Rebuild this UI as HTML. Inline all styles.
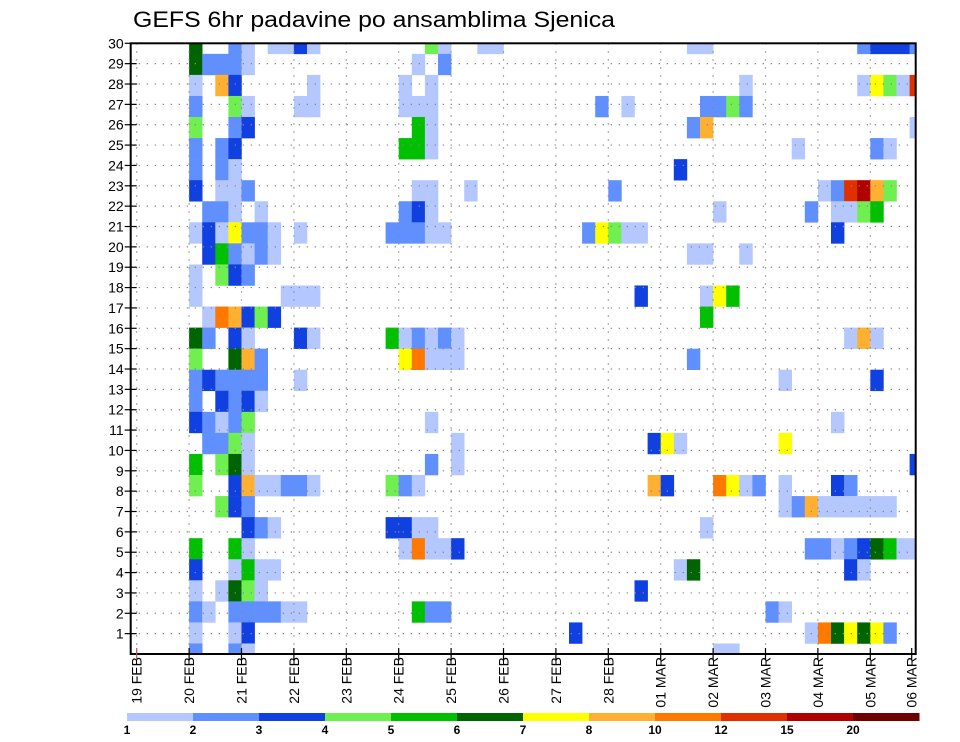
<!DOCTYPE html>
<html>
<head>
<meta charset="utf-8">
<style>
  html,body{margin:0;padding:0;background:#fff;}
  svg{display:block;}
  text{font-family:"Liberation Sans",sans-serif;fill:#000;}
</style>
</head>
<body>
<svg id="chart" width="960" height="742" viewBox="0 0 960 742" xmlns="http://www.w3.org/2000/svg">
  <text x="133" y="27" font-size="22" textLength="482" lengthAdjust="spacingAndGlyphs">GEFS 6hr padavine po ansamblima Sjenica</text>
  <g id="cells"></g>
  <g id="grid"></g>
  <g id="axes"></g>
  <g id="legend"></g>
</svg>
<script>
// ---- data ----
// Each string lists one ensemble-member row (top to bottom): "column(6h step from 20 FEB 00Z)+class".
// Classes: a=1-2 b=2-3 c=3-4 d=4-5 e=5-6 f=6-7 g=7-8 h=8-10 i=10-12 j=12-15 k=15-20 l=>20 mm
const memberRows = [
  "0f 3b 4a 6a 7a 8c 9a 18d 19a 22a 23a 38a 39a 51b 52c 53c 54c 55b",
  "0f 1b 2b 3b 4a 17a 19b",
  "0a 2h 3c 9a 16a 18a 42a 51a 52g 53d 54a 55j",
  "0b 3d 4a 8a 9a 16a 17a 18a 31b 33a 39b 40b 41d 42b",
  "0d 3b 4c 17e 18a 38b 39h 55a",
  "0b 2b 3c 16e 17e 18a 46a 52b 53a",
  "0b 2b 3a 37c",
  "0c 2a 3a 4b 17a 18a 21a 32b 48a 49b 50j 51k 52h 53d",
  "1b 2b 3a 5a 16b 17c 18a 40a 47b 49a 50a 51d 52e",
  "0a 1c 2a 3g 4b 5b 6a 8a 15b 16b 17b 18a 19a 30b 31g 32d 33a 34a 49c",
  "1c 2e 3b 4a 5b 6a 38a 39a 42a",
  "0a 2d 3c 4b",
  "0a 7a 8a 9a 34c 39a 40g 41e",
  "1a 2i 3h 4c 5d 6c 39e",
  "0f 1b 3c 4a 8c 9a 15e 16a 17b 18a 19b 20a 50a 51h 52a",
  "0d 3f 4h 5b 16g 17i 18a 19a 20a 38b",
  "0b 1c 2b 3b 4b 5b 8a 45a 52c",
  "0b 2c 3b 4c 5a",
  "0c 1b 2a 3b 4d 18a 49a",
  "1b 2b 3d 4a 20a 35c 36g 37a 45g",
  "0e 2d 3f 4a 18b 20a 55c",
  "0d 3c 4h 5a 6a 7b 8b 9a 15d 16b 17a 35h 36c 40i 41g 42a 43b 45a 49c 50b",
  "2d 3c 4b 45a 46b 47h 48a 49a 50a 51a 52a 53a",
  "4c 5b 6a 15c 16c 17a 18a 39a",
  "0e 3e 4a 16a 17i 18a 19a 20c 47b 48b 49a 50b 51c 52f 53e 54a 55a",
  "0c 3a 4e 5a 6a 37a 38f 50c 51a",
  "0a 2a 3f 4d 5a 34c",
  "0b 1a 3b 4b 5b 6b 7a 8a 17e 18b 19b 44b 45a",
  "0a 3a 4c 29c 47a 48i 49f 50g 51f 52g 53b",
  "0b 3b 4a 40a 41a"
];
const classCodes = ["a","b","c","d","e","f","g","h","i","j","k","l"];
const classColors = ["#b4c8ff","#6090ff","#1040e0","#70f050","#00c000","#006400","#ffff00","#ffb030","#ff7800","#e03000","#b00000","#700000"];
const legendLabels = ["1","2","3","4","5","6","7","8","10","12","15","20"];
const yTickLabels = [1,2,3,4,5,6,7,8,9,10,11,12,13,14,15,16,17,18,19,20,21,22,23,24,25,26,27,28,29,30];
const xTickLabels = ["19 FEB","20 FEB","21 FEB","22 FEB","23 FEB","24 FEB","25 FEB","26 FEB","27 FEB","28 FEB","01 MAR","02 MAR","03 MAR","04 MAR","05 MAR","06 MAR"];

// ---- geometry ----
const NS = "http://www.w3.org/2000/svg";
const PL = 130.7, PR = 915.7, PT = 43.3, PB = 654;
const dayW = 52.4, x19 = 136.7;
function xDay(d){ return x19 + d*dayW; }            // days since 19 FEB 00Z
function xStep(col){ return xDay(1 + col/4); }       // 6h steps from 20 FEB
const stepW = dayW/4;
const bandH = (PB-PT)/(memberRows.length-1);
function yBand(k){ return PT + k*bandH; }            // band centre
function yTick(v){ return PB - v*(PB-PT)/30; }

function mk(tag, attrs, parent){
  const e = document.createElementNS(NS, tag);
  for (const k in attrs) e.setAttribute(k, attrs[k]);
  parent.appendChild(e);
  return e;
}

// ---- cells ----
const cells = document.getElementById("cells");
memberRows.forEach((row, k) => {
  row.split(" ").forEach(tok => {
    if (!tok) return;
    const col = parseInt(tok, 10);
    const cls = classCodes.indexOf(tok.replace(/[0-9]/g, ""));
    let x1 = xStep(col), x2 = x1 + stepW;
    let y1 = yBand(k) - bandH/2, y2 = yBand(k) + bandH/2;
    x1 = Math.max(x1, PL); x2 = Math.min(x2, PR);
    y1 = Math.max(y1, PT); y2 = Math.min(y2, PB);
    if (x2 <= x1 || y2 <= y1) return;
    const r = mk("rect", {x:x1, y:y1, width:x2-x1+0.3, height:y2-y1+0.3, fill:classColors[cls]}, cells);
    
    
  });
});

// ---- grid ----
const grid = document.getElementById("grid");
yTickLabels.forEach(v => {
  const y = yTick(v);
  const l = mk("line", {x1:PL, x2:PR, y1:y, y2:y, stroke:"#888", "stroke-width":1.2, "stroke-dasharray":"1.3 6.7"}, grid);
  
  
});
xTickLabels.forEach((t, d) => {
  const x = xDay(d);
  if (x > PR - 1) return;
  const l = mk("line", {x1:x, x2:x, y1:PT, y2:PB, stroke:"#888", "stroke-width":1.2, "stroke-dasharray":"1.3 6.7"}, grid);
  
  
});

// ---- axes ----
const axes = document.getElementById("axes");
const frame = mk("rect", {x:PL, y:PT, width:PR-PL, height:PB-PT, fill:"none", stroke:"#000", "stroke-width":2}, axes);


yTickLabels.forEach(v => {
  const y = yTick(v);
  const t = mk("line", {x1:PL-6, x2:PL+6, y1:y, y2:y, stroke:"#000", "stroke-width":1.2}, axes);
  
  
  const lb = mk("text", {x:PL-7, y:y+5, "font-size":14, "text-anchor":"end"}, axes);
  lb.textContent = v;
  
  
});
xTickLabels.forEach((s, d) => {
  const x = Math.min(xDay(d), PR - 4);
  const t = mk("line", {x1:x, x2:x, y1:PB-6, y2:PB+6, stroke: d===0 ? "#c05050" : "#000", "stroke-width":1.2}, axes);
  
  
  const lb = mk("text", {x:0, y:0, "font-size":14, "text-anchor":"end", transform:`translate(${x+5},${PB+3}) rotate(-90)`}, axes);
  lb.textContent = s;
  
  
});

// ---- legend ----
const legend = document.getElementById("legend");
const LX = 127, LW = 66, LY = 713, LH = 8;
classColors.forEach((c, i) => {
  const r = mk("rect", {x:LX+i*LW, y:LY, width:LW+0.5, height:LH, fill:c}, legend);
  
  
});
legendLabels.forEach((s, i) => {
  const t = mk("text", {x:LX+i*LW, y:LY+21, "font-size":12, "font-weight":"bold", "text-anchor":"middle"}, legend);
  t.textContent = s;
  
  
});
</script>
</body>
</html>
